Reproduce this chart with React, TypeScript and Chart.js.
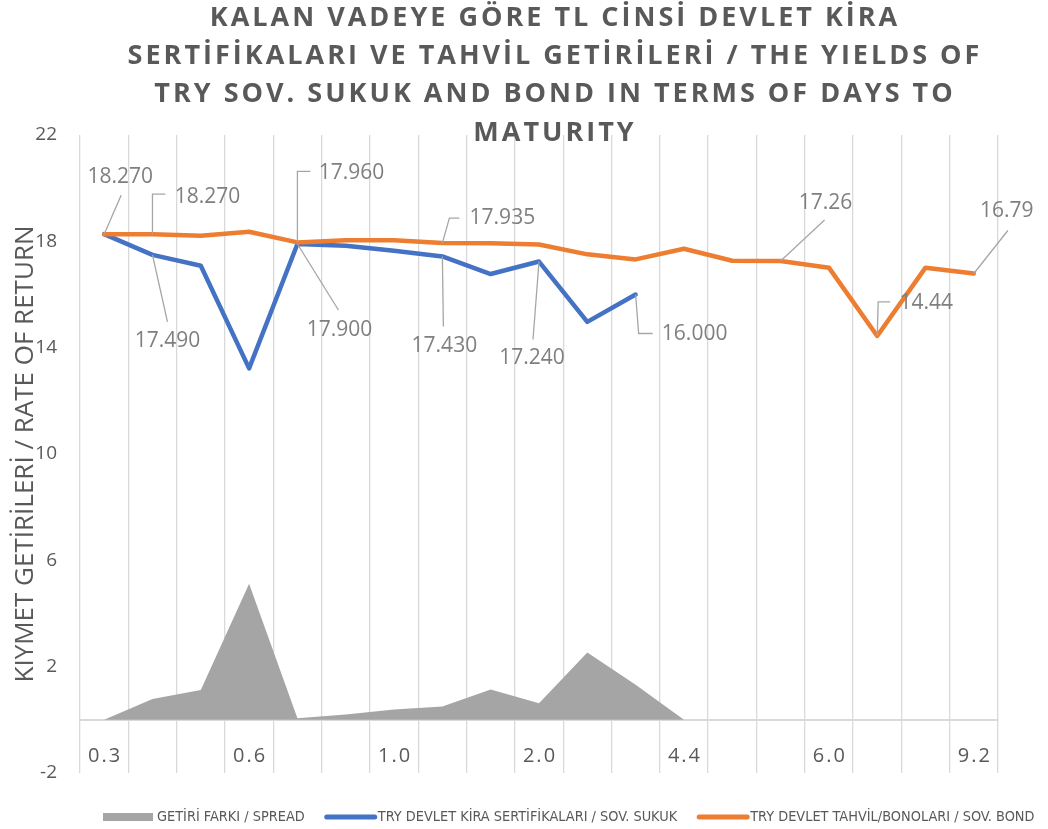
import React, { useEffect, useRef } from 'react';
import { Chart, registerables } from 'chart.js';

Chart.register(...registerables);

// ---------- data ----------
const categories = ['0.3', '', '', '0.6', '', '', '1.0', '', '', '2.0', '', '', '4.4', '', '', '6.0', '', '', '9.2'];
const spreadValues = [0, 0.78, 1.12, 5.12, 0.06, 0.2, 0.39, 0.5, 1.14, 0.62, 2.53, 1.32, 0];
const sukukValues = [18.27, 17.49, 17.08, 13.22, 17.9, 17.83, 17.65, 17.43, 16.77, 17.24, 14.97, 16.0];
const bondValues = [18.27, 18.27, 18.21, 18.36, 17.96, 18.04, 18.04, 17.935, 17.93, 17.88, 17.51, 17.32, 17.72, 17.27, 17.26, 17.01, 14.44, 17.01, 16.79];
const seriesNames = [
  'GETİRİ FARKI / SPREAD',
  'TRY DEVLET KİRA SERTİFİKALARI / SOV. SUKUK',
  'TRY DEVLET TAHVİL/BONOLARI / SOV. BOND',
];
const titleLines = [
  'KALAN VADEYE GÖRE TL CİNSİ DEVLET KİRA',
  'SERTİFİKALARI VE TAHVİL GETİRİLERİ / THE YIELDS OF',
  'TRY SOV. SUKUK AND BOND IN TERMS OF DAYS TO',
  'MATURITY',
];
const yAxisTitle = 'KIYMET GETİRİLERİ / RATE OF RETURN';
const yMin = -2;
const yMax = 22;
const yStep = 4;
// [point index, label text]
const bondPointLabels: [number, string][] = [
  [0, '18.270'], [1, '18.270'], [4, '17.960'], [7, '17.935'], [14, '17.26'], [16, '14.44'], [18, '16.79'],
];
const sukukPointLabels: [number, string][] = [
  [1, '17.490'], [4, '17.900'], [7, '17.430'], [9, '17.240'], [11, '16.000'],
];

// ---------- styles ----------
const ORANGE = '#ed7d31';
const BLUE = '#4472c4';
const GREY = '#a5a5a5';
const TEXT = '#595959';
const LABEL_TEXT = '#7f7f7f';
const LEADER = '#a6a6a6';
const GRID = '#d9d9d9';
const FONT = "'Open Sans', 'Noto Sans', sans-serif";
const LEGEND_FONT = "14.4px 'Liberation Sans Narrow', 'DejaVu Sans Condensed', sans-serif";

// label placement relative to the point: text centre + leader path
const bondLabelPlacement: Record<number, { t: [number, number]; p: [number, number][] }> = {
  0: { t: [16, -57], p: [[17, -39]] },
  1: { t: [55, -37], p: [[0, -40], [13, -40]] },
  4: { t: [54, -69], p: [[0, -71], [13, -71]] },
  7: { t: [60, -25], p: [[7, -25], [17, -25]] },
  14: { t: [45, -58], p: [[44, -41]] },
  16: { t: [49, -33], p: [[1, -34], [13, -34]] },
  18: { t: [33, -62], p: [[34, -43]] },
};
const sukukLabelPlacement: Record<number, { t: [number, number]; p: [number, number][] }> = {
  1: { t: [15, 86], p: [[15, 67]] },
  4: { t: [42, 86], p: [[41, 66]] },
  7: { t: [2, 90], p: [[1, 70]] },
  9: { t: [-7, 96], p: [[-6, 78]] },
  11: { t: [59, 40], p: [[3, 39], [17, 39]] },
};

const spaced = (s: string) => (s ? s.split('').join('\u200A') : '');

const overlayPlugin = {
  id: 'overlay',
  afterDatasetsDraw(chart: any) {
    const ctx = chart.ctx as CanvasRenderingContext2D;
    const drawSet = (dsIndex: number, list: [number, string][], place: Record<number, any>) => {
      const meta = chart.getDatasetMeta(dsIndex);
      list.forEach(([i, text]) => {
        const el = meta.data[i];
        const cfg = place[i];
        if (!el || !cfg) return;
        const { x, y } = el;
        ctx.save();
        ctx.strokeStyle = LEADER;
        ctx.lineWidth = 1.3;
        ctx.beginPath();
        ctx.moveTo(x, y);
        cfg.p.forEach(([dx, dy]: [number, number]) => ctx.lineTo(x + dx, y + dy));
        ctx.stroke();
        ctx.fillStyle = LABEL_TEXT;
        ctx.font = `21px ${FONT}`;
        ctx.textAlign = 'center';
        ctx.textBaseline = 'middle';
        ctx.fillText(text, x + cfg.t[0], y + cfg.t[1]);
        ctx.restore();
      });
    };
    drawSet(0, bondPointLabels, bondLabelPlacement);
    drawSet(1, sukukPointLabels, sukukLabelPlacement);
  },
  afterDraw(chart: any) {
    const ctx = chart.ctx as CanvasRenderingContext2D;
    // title
    ctx.save();
    ctx.fillStyle = TEXT;
    ctx.font = `bold 27px ${FONT}`;
    (ctx as any).letterSpacing = '3px';
    ctx.textAlign = 'center';
    ctx.textBaseline = 'middle';
    titleLines.forEach((line, k) => {
      ctx.fillText(line, 555, 18 + k * 38.3);
    });
    (ctx as any).letterSpacing = '0px';
    ctx.restore();

    // legend
    ctx.save();
    ctx.font = LEGEND_FONT;
    ctx.textBaseline = 'middle';
    ctx.textAlign = 'left';
    const ly = 817;
    let lx = 103;
    const items = [
      { name: seriesNames[0], color: GREY, kind: 'box' },
      { name: seriesNames[1], color: BLUE, kind: 'line' },
      { name: seriesNames[2], color: ORANGE, kind: 'line' },
    ];
    items.forEach((it) => {
      if (it.kind === 'box') {
        ctx.fillStyle = it.color;
        ctx.fillRect(lx, ly - 4, 50, 8);
      } else {
        ctx.strokeStyle = it.color;
        ctx.lineWidth = 5;
        ctx.lineCap = 'round';
        ctx.beginPath();
        ctx.moveTo(lx + 3, ly);
        ctx.lineTo(lx + 51, ly);
        ctx.stroke();
      }
      ctx.fillStyle = TEXT;
      ctx.fillText(it.name, lx + 54, ly);
      lx += 54 + ctx.measureText(it.name).width + 19;
    });
    ctx.restore();
  },
};

export default function App() {
  const ref = useRef<HTMLCanvasElement>(null);
  useEffect(() => {
    const canvas = ref.current;
    if (!canvas) return;
    const chart = new Chart(canvas, {
      type: 'line',
      data: {
        labels: categories,
        datasets: [
          {
            label: seriesNames[2],
            data: bondValues,
            borderColor: ORANGE,
            backgroundColor: ORANGE,
            borderWidth: 4.5,
            pointRadius: 0,
            fill: false,
            tension: 0,
            borderJoinStyle: 'round',
            borderCapStyle: 'round',
            order: 0,
          },
          {
            label: seriesNames[1],
            data: sukukValues,
            borderColor: BLUE,
            backgroundColor: BLUE,
            borderWidth: 4.5,
            pointRadius: 0,
            fill: false,
            tension: 0,
            borderJoinStyle: 'round',
            borderCapStyle: 'round',
            order: 1,
          },
          {
            label: seriesNames[0],
            data: spreadValues,
            borderColor: GREY,
            backgroundColor: GREY,
            borderWidth: 0,
            pointRadius: 0,
            fill: 'origin',
            tension: 0,
            order: 2,
          },
        ],
      },
      options: {
        responsive: false,
        animation: false,
        events: [],
        layout: { padding: { left: 0, right: 50, top: 135, bottom: 56 } },
        plugins: {
          legend: { display: false },
          title: { display: false },
          tooltip: { enabled: false },
        },
        scales: {
          x: {
            type: 'category',
            position: { y: 0 } as any,
            offset: true,
            grid: { offset: true, color: GRID, lineWidth: 1.3, drawTicks: false },
            border: { color: GRID, width: 2 },
            ticks: {
              autoSkip: false,
              maxRotation: 0,
              padding: 24,
              color: TEXT,
              font: { family: FONT, size: 20 },
              callback: (_v: any, i: number) => spaced(categories[i]),
            },
          },
          y: {
            min: yMin,
            max: yMax,
            ticks: { stepSize: yStep, padding: 23, color: TEXT, font: { family: FONT, size: 19 } },
            grid: { display: false, drawTicks: false },
            border: { display: false },
            title: {
              display: true,
              text: yAxisTitle,
              color: TEXT,
              font: { family: FONT, size: 26 },
              padding: { top: 10, bottom: 0 },
            },
            afterFit: (s: any) => {
              s.width = 80;
            },
          },
        },
      },
      plugins: [overlayPlugin],
    });
    return () => chart.destroy();
  }, []);

  return (
    <div style={{ position: 'absolute', left: 0, top: 0, width: 1048, height: 829, background: '#fff' }}>
      <canvas ref={ref} width={1048} height={829} style={{ display: 'block' }} />
    </div>
  );
}
